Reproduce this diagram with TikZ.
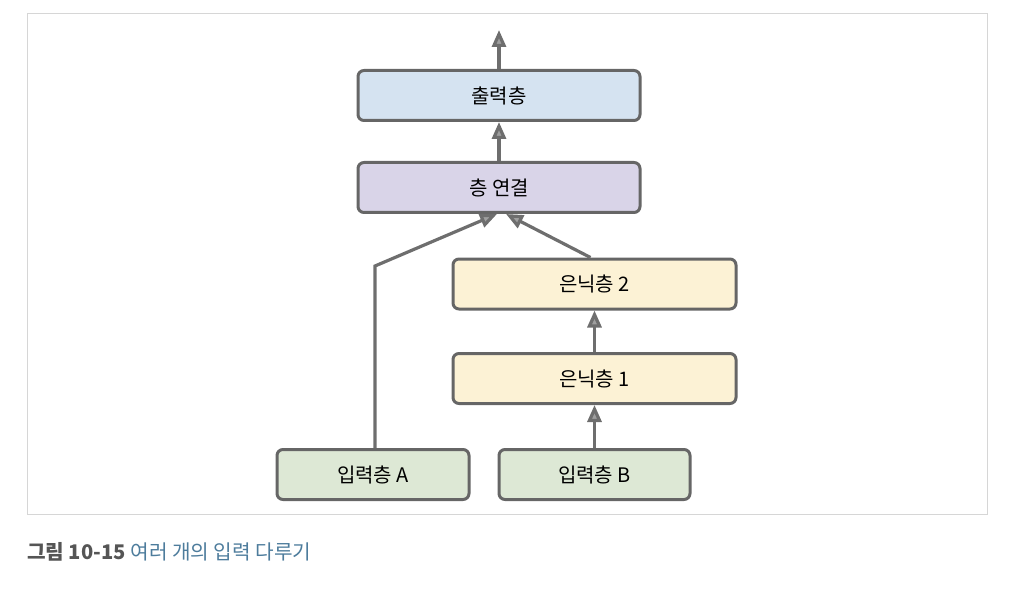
\documentclass[tikz,border=0pt]{standalone}
\usepackage{fontspec}
\setmainfont{Noto Sans CJK KR}
\usetikzlibrary{arrows.meta,calc}
\definecolor{edgegray}{HTML}{6E6E6E}
\definecolor{boxgray}{HTML}{666666}
\definecolor{fblue}{HTML}{D5E3F1}
\definecolor{fpurple}{HTML}{D9D4E8}
\definecolor{fyellow}{HTML}{FCF2D5}
\definecolor{fgreen}{HTML}{DDE8D5}
\definecolor{framegray}{HTML}{D6D6D6}
\definecolor{capblue}{HTML}{4D7C9C}
\definecolor{capgray}{HTML}{555555}
\tikzset{
  layer/.style={draw=boxgray, line width=3pt, rounded corners=6pt, minimum height=50pt, inner sep=0pt, font=\fontsize{20}{24}\selectfont},
  conn/.style={draw=edgegray, line width=3.2pt, -{Triangle[length=17pt,width=14pt,fill=gray!75]}},
}
\begin{document}
\begin{tikzpicture}[x=1pt,y=-1pt]
\useasboundingbox (0,0) rectangle (1020,596);
\draw[framegray, line width=1pt] (27,14) rectangle (987,514);
\node[layer, fill=fblue, minimum width=282pt] (out) at (499,95.5) {출력층};
\node[layer, fill=fpurple, minimum width=282pt] (cat) at (499,187.5) {층 연결};
\node[layer, fill=fyellow, minimum width=283pt] (h2) at (594.5,284) {은닉층 2};
\node[layer, fill=fyellow, minimum width=283pt] (h1) at (594.5,378.5) {은닉층 1};
\node[layer, fill=fgreen, minimum width=192pt] (ia) at (373,474.5) {입력층 A};
\node[layer, fill=fgreen, minimum width=191pt] (ib) at (594.5,474.5) {입력층 B};
\coordinate (top) at (499,30);
\draw[conn] (out.north) -- (top);
\draw[conn] (cat.north) -- (out.south);
\draw[conn] (ib.north) -- (h1.south);
\draw[conn] (h1.north) -- (h2.south);
\coordinate (bend) at (375,266);
\draw[conn] (ia.north -| bend) -- (bend) -- ($(cat.south)+(-2,0)$);
\draw[conn] ($(h2.north)+(-4,0)$) -- ($(cat.south)+(7,0)$);
\node[anchor=west, inner sep=0pt, font=\fontsize{20.2}{24}\selectfont] (cap) at (27,552) {\textcolor{capgray}{\bfseries 그림 10-15} \textcolor{capblue}{여러 개의 입력 다루기}};
\end{tikzpicture}
\end{document}
